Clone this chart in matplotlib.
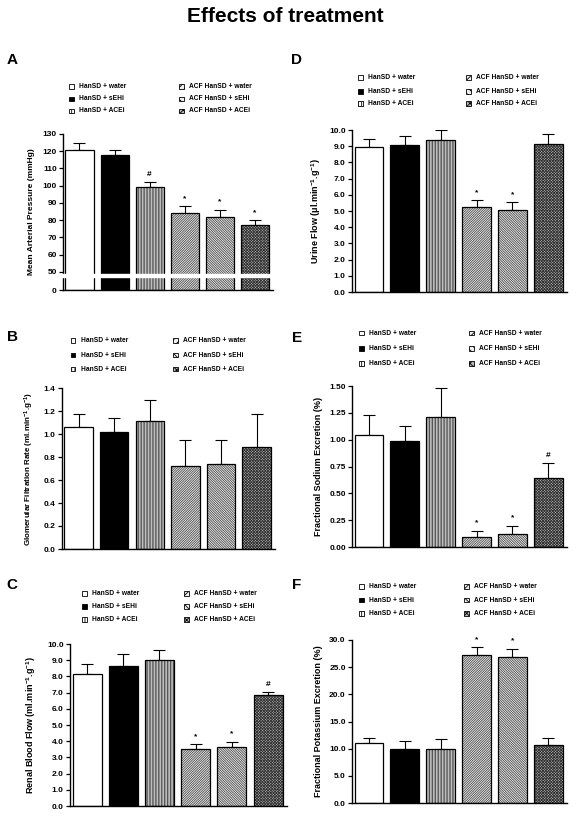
import numpy as np
import matplotlib
matplotlib.use('Agg')
import matplotlib.pyplot as plt
from matplotlib.patches import Rectangle

plt.rcParams['font.family'] = ['Liberation Sans', 'DejaVu Sans']
plt.rcParams['hatch.linewidth'] = 0.6
plt.rcParams['mathtext.fontset'] = 'custom'
plt.rcParams['mathtext.rm'] = 'Liberation Sans:bold'
plt.rcParams['mathtext.bf'] = 'Liberation Sans:bold'
plt.rcParams['mathtext.it'] = 'Liberation Sans:bold'
plt.rcParams['mathtext.default'] = 'bf'

# ---------------- data ----------------
groups = ['HanSD + water', 'HanSD + sEHi', 'HanSD + ACEi',
          'ACF HanSD + water', 'ACF HanSD + sEHi', 'ACF HanSD + ACEi']

map_mean = [121, 118, 99, 84, 82, 77]
map_sem = [4, 3, 3, 4, 4, 3]
map_marks = ['', '', '#', '*', '*', '*']

gfr_mean = [1.06, 1.02, 1.11, 0.72, 0.74, 0.89]
gfr_sem = [0.11, 0.12, 0.19, 0.23, 0.21, 0.28]
gfr_marks = ['', '', '', '', '', '']

rbf_mean = [8.16, 8.64, 9.00, 3.52, 3.62, 6.83]
rbf_sem = [0.60, 0.72, 0.66, 0.28, 0.34, 0.20]
rbf_marks = ['', '', '', '*', '*', '#']

uf_mean = [8.97, 9.05, 9.38, 5.27, 5.08, 9.13]
uf_sem = [0.45, 0.55, 0.60, 0.40, 0.45, 0.63]
uf_marks = ['', '', '', '*', '*', '']

fena_mean = [1.04, 0.99, 1.21, 0.09, 0.12, 0.64]
fena_sem = [0.19, 0.14, 0.27, 0.06, 0.08, 0.14]
fena_marks = ['', '', '', '*', '*', '#']

fek_mean = [11.0, 9.9, 10.0, 27.2, 26.8, 10.7]
fek_sem = [1.0, 1.5, 1.8, 1.5, 1.6, 1.2]
fek_marks = ['', '', '', '*', '*', '']

# ---------------- styles ----------------
faces = ['white', 'black', 'white', '#f0f0f0', '#f0f0f0', '#b8b8b8']
hatches = [None, None, '|' * 11, '/' * 14, '\\' * 14, 'x' * 12]
hatch_cols = [None, None, '#333333', '#4a4a4a', '#4a4a4a', '#333333']

W, H = 571, 813
fig = plt.figure(figsize=(W / 100, H / 100), dpi=100)
fig.patch.set_facecolor('white')


def ax_px(left, right, top, bottom):
    return fig.add_axes([left / W, 1 - bottom / H, (right - left) / W, (bottom - top) / H])


def draw_bars(ax, mean, sem, marks):
    x = np.arange(len(mean))
    ax.bar(x, mean, width=0.8, color=faces, edgecolor='black', linewidth=0,
           zorder=2)
    for xi, m, h, hc in zip(x, mean, hatches, hatch_cols):
        if h:
            ax.bar(xi, m, width=0.8, color='none', edgecolor=hc,
                   linewidth=0, hatch=h, zorder=2.5)
    ax.bar(x, mean, width=0.8, color='none', edgecolor='black', linewidth=0.9, zorder=3)
    ax.errorbar(x, mean, yerr=[np.zeros(len(sem)), sem], fmt='none', ecolor='black',
                elinewidth=0.8, capsize=4.5, capthick=0.8, zorder=1.5)
    for xi, m, s, mk in zip(x, mean, sem, marks):
        if mk:
            ax.annotate(mk, (xi, m + s), xytext=(0, 3), textcoords='offset points',
                        ha='center', va='bottom', fontsize=6, fontweight='bold')
    ax.set_xlim(-0.47, 5.52)
    ax.set_xticks([])
    for sp in ['top', 'right']:
        ax.spines[sp].set_visible(False)
    for sp in ['left', 'bottom']:
        ax.spines[sp].set_linewidth(1.0)
    ax.tick_params(axis='y', direction='out', length=3, width=0.9, labelsize=6, pad=1.5)


def style_ticks(ax):
    for lab in ax.get_yticklabels():
        lab.set_fontweight('bold')


def legend(left_sq, right_sq, rows):
    sq = 4.6
    for col, sx in enumerate([left_sq, right_sq]):
        for r, y in enumerate(rows):
            i = col * 3 + r
            h = hatches[i]
            if h:
                h = h[:5]
            rect = Rectangle((sx / W, 1 - (y + sq / 2) / H), sq / W, sq / H,
                             transform=fig.transFigure, facecolor=faces[i],
                             edgecolor='black', linewidth=0.6, hatch=h)
            fig.patches.append(rect)
            fig.text((sx + sq + 5.5) / W, 1 - y / H, groups[i], fontsize=4.8,
                     fontweight='bold', va='center', ha='left')


def letter(x, y, s):
    fig.text(x / W, 1 - y / H, s, fontsize=11, fontweight='bold', ha='center', va='center')


fig.text(0.5, 1 - 17 / H, 'Effects of treatment', ha='center', va='center',
         fontsize=15, fontweight='bold')

sup = r'$^{-1}$'

# ---------------- Panel A (broken axis) ----------------
k = 0.209


def fwd(y):
    y = np.asarray(y, dtype=float)
    return np.where(y >= 50, y, 50 - (50 - y) * k)


def inv(t):
    t = np.asarray(t, dtype=float)
    return np.where(t >= 50, t, 50 - (50 - t) / k)


axA = ax_px(63, 273, 134, 290)
axA.set_yscale('function', functions=(fwd, inv))
draw_bars(axA, map_mean, map_sem, map_marks)
axA.set_ylim(0, 130)
axA.set_yticks([0, 50, 60, 70, 80, 90, 100, 110, 120, 130])
axA.set_yticklabels(['0', '50', '60', '70', '80', '90', '100', '110', '120', '130'])
axA.yaxis.set_minor_locator(matplotlib.ticker.NullLocator())
style_ticks(axA)
axA.axhspan(35, 44, xmin=-0.03, xmax=1.0, color='white', zorder=6, clip_on=False)
axA.set_ylabel('Mean Arterial Pressure (mmHg)', fontsize=6, fontweight='bold')
axA.yaxis.set_label_coords(-0.133, 0.5)
legend(69, 179, [86.7, 99, 111])
letter(12, 60, 'A')

# ---------------- Panel B ----------------
axB = ax_px(62, 275, 388, 549)
draw_bars(axB, gfr_mean, gfr_sem, gfr_marks)
axB.set_ylim(0, 1.4)
axB.set_yticks(np.arange(0, 1.41, 0.2))
axB.yaxis.set_major_formatter(matplotlib.ticker.FormatStrFormatter('%.1f'))
style_ticks(axB)
axB.set_ylabel('Glomerular Filtration Rate (ml.min' + sup + '.g' + sup + ')',
               fontsize=5.8, fontweight='bold')
axB.yaxis.set_label_coords(-0.122, 0.5)
legend(70.7, 173, [340.7, 355, 369])
letter(12, 337, 'B')

# ---------------- Panel C ----------------
axC = ax_px(70, 287, 644, 806)
draw_bars(axC, rbf_mean, rbf_sem, rbf_marks)
axC.set_ylim(0, 10)
axC.set_yticks(np.arange(0, 10.01, 1.0))
axC.yaxis.set_major_formatter(matplotlib.ticker.FormatStrFormatter('%.1f'))
style_ticks(axC)
axC.set_ylabel('Renal Blood Flow (ml.min' + sup + '.g' + sup + ')',
               fontsize=6.5, fontweight='bold')
axC.yaxis.set_label_coords(-0.147, 0.5)
legend(82, 184, [593.3, 606.7, 619.3])
letter(12, 585, 'C')

# ---------------- Panel D ----------------
axD = ax_px(352, 567, 130, 292)
draw_bars(axD, uf_mean, uf_sem, uf_marks)
axD.set_ylim(0, 10)
axD.set_yticks(np.arange(0, 10.01, 1.0))
axD.yaxis.set_major_formatter(matplotlib.ticker.FormatStrFormatter('%.1f'))
style_ticks(axD)
axD.set_ylabel('Urine Flow (\u03bcl.min' + sup + '.g' + sup + ')',
               fontsize=6.5, fontweight='bold')
axD.yaxis.set_label_coords(-0.135, 0.5)
legend(358, 466, [77.3, 91.3, 103.3])
letter(297, 60, 'D')

# ---------------- Panel E ----------------
axE = ax_px(352, 567, 386, 547)
draw_bars(axE, fena_mean, fena_sem, fena_marks)
axE.set_ylim(0, 1.5)
axE.set_yticks(np.arange(0, 1.51, 0.25))
axE.yaxis.set_major_formatter(matplotlib.ticker.FormatStrFormatter('%.2f'))
style_ticks(axE)
axE.set_ylabel('Fractional Sodium Excretion (%)', fontsize=6.5, fontweight='bold')
axE.yaxis.set_label_coords(-0.137, 0.5)
legend(359, 469, [333, 348.7, 363.3])
letter(297, 338, 'E')

# ---------------- Panel F ----------------
axF = ax_px(352, 567, 640, 803)
draw_bars(axF, fek_mean, fek_sem, fek_marks)
axF.set_ylim(0, 30)
axF.set_yticks(np.arange(0, 30.01, 5.0))
axF.yaxis.set_major_formatter(matplotlib.ticker.FormatStrFormatter('%.1f'))
style_ticks(axF)
axF.set_ylabel('Fractional Potassium Excretion (%)', fontsize=6.5, fontweight='bold')
axF.yaxis.set_label_coords(-0.137, 0.5)
legend(359, 464, [586.7, 600, 613.3])
letter(297, 585, 'F')

fig.savefig('out.png', dpi=100, facecolor='white')
